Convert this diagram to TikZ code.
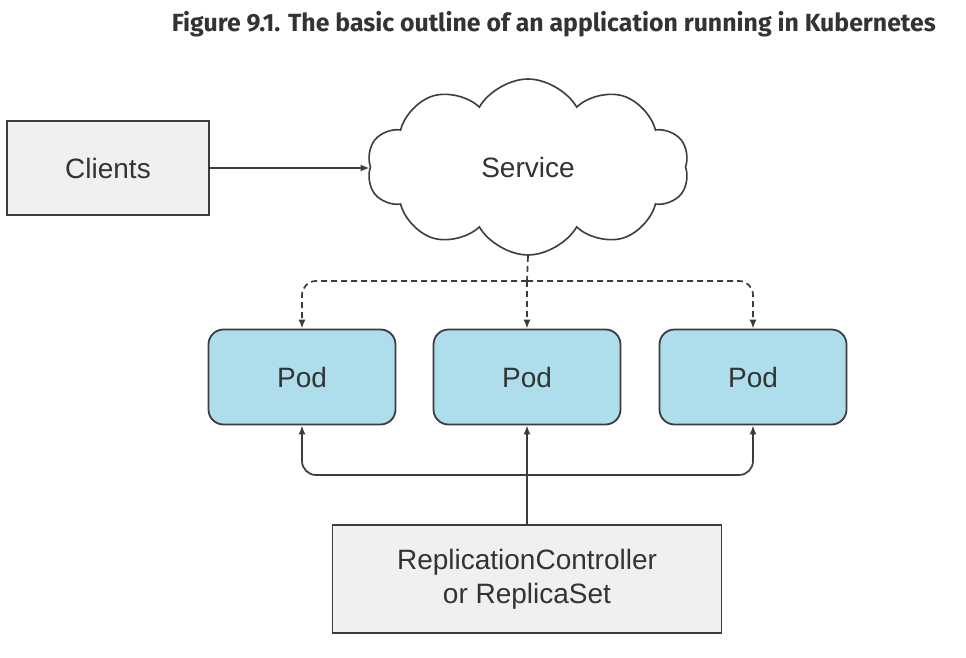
\documentclass[tikz,border=0pt]{standalone}
\usepackage{fontspec}
\setmainfont{Liberation Sans}
\newfontfamily\titlefont{Fira Sans}
\usetikzlibrary{shapes.symbols,arrows.meta}
\definecolor{txt}{HTML}{333333}
\definecolor{boxgray}{HTML}{F0F0F1}
\definecolor{podblue}{HTML}{AEDEEC}
\definecolor{edge}{HTML}{3C3C3C}
\begin{document}
\begin{tikzpicture}[x=1pt,y=-1pt,
  every node/.style={text=txt,font=\fontsize{28}{34}\selectfont},
  graybox/.style={draw=edge,line width=1.8pt,fill=boxgray,inner sep=0pt},
  podbox/.style={draw=edge,line width=1.8pt,fill=podblue,rounded corners=15pt,minimum width=187pt,minimum height=95pt,inner sep=0pt},
  conn/.style={draw=edge,line width=1.7pt,-{Latex[length=9pt,width=7pt]}},
  dashconn/.style={conn,dash pattern=on 6pt off 4pt},
]
\useasboundingbox (0,0) rectangle (966,658);
\node[anchor=base east,text=txt,inner sep=0pt] (title) at (936,32)
  {\resizebox{764pt}{!}{\titlefont\bfseries Figure 9.1. The basic outline of an application running in Kubernetes}};
\node[graybox,minimum width=202pt,minimum height=94pt] (clients) at (108,168) {Clients};
\node[cloud,cloud puffs=10,cloud puff arc=120,aspect=1.9,draw=edge,line width=1.6pt,fill=white,
      minimum width=322pt,minimum height=176pt,inner sep=0pt] (service) at (528,167) {Service};
\node[podbox] (pod1) at (302,377) {Pod};
\node[podbox] (pod2) at (527,377) {Pod};
\node[podbox] (pod3) at (753,377) {Pod};
\node[graybox,minimum width=389pt,minimum height=108pt,align=center] (rc) at (527,579)
  {ReplicationController\\or ReplicaSet};
\coordinate (dsplit) at (527,281);
\coordinate (bsplit) at (527,475);
\draw[conn] (clients.east) -- (clients.east -| service.west);
\draw[draw=edge,line width=1.7pt,dash pattern=on 6pt off 4pt] (service.south) -- (dsplit);
\draw[dashconn] (dsplit) -- (pod2.north);
\draw[dashconn,rounded corners=14pt] (dsplit) -| (pod1.north);
\draw[dashconn,rounded corners=14pt] (dsplit) -| (pod3.north);
\draw[conn] (rc.north) -- (pod2.south);
\draw[conn,rounded corners=14pt] (bsplit) -| (pod1.south);
\draw[conn,rounded corners=14pt] (bsplit) -| (pod3.south);
\end{tikzpicture}
\end{document}
